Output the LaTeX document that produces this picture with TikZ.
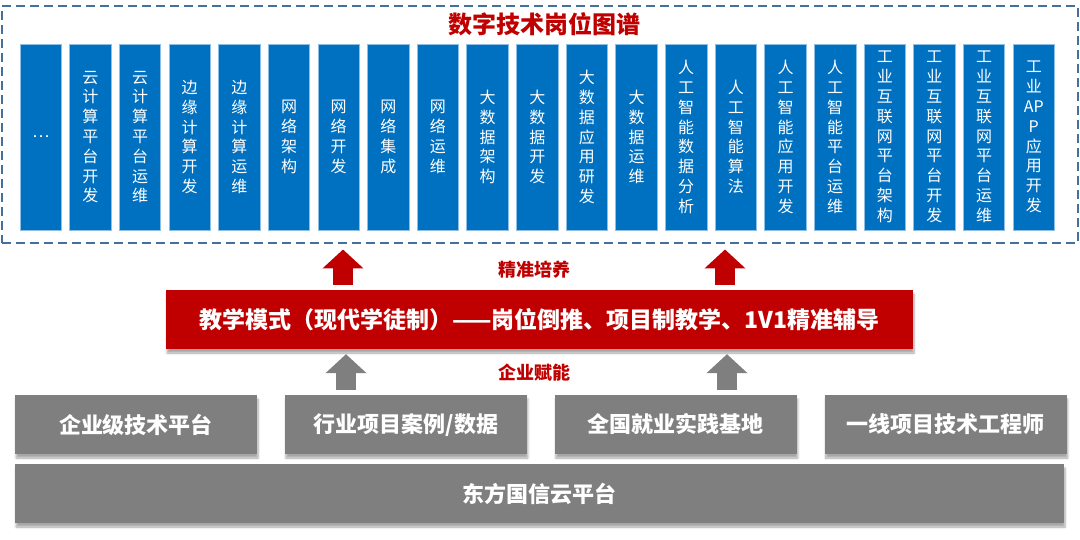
\documentclass[tikz,border=0pt]{standalone}
\usepackage{fontspec}
\setmainfont{Noto Sans CJK SC}
\usetikzlibrary{positioning, shadows.blur, arrows.meta}
\definecolor{jobblue}{HTML}{0070C0}
\definecolor{deepred}{HTML}{C00000}
\definecolor{platgray}{HTML}{7F7F7F}
\definecolor{framebl}{HTML}{41719C}

\begin{document}
\begin{tikzpicture}[
  x=1pt, y=-1pt,
  jobcol/.style={
    draw=white!55!jobblue, line width=0.8pt, fill=jobblue, text=white,
    minimum width=41.5pt, minimum height=186pt, inner sep=0pt,
    align=center, font=\fontsize{16pt}{19.8pt}\selectfont
  },
  softshadow/.style={
    blur shadow={shadow xshift=1pt, shadow yshift=-4pt,
                 shadow blur steps=6, shadow opacity=35}
  },
  platform/.style={
    fill=platgray, text=white, softshadow,
    minimum width=242pt, minimum height=59pt, inner sep=0pt,
    font=\fontsize{22pt}{26pt}\selectfont\bfseries
  },
  upshaft/.style={
    draw=#1, line width=20pt, -{Triangle[width=40pt, length=19pt]},
    shorten >=5pt, shorten <=5pt
  },
  redlabel/.style={
    text=deepred, font=\fontsize{18pt}{22pt}\selectfont\bfseries
  }
]
\useasboundingbox (0,0) rectangle (1080,540);

% job map
\node[draw=framebl, line width=2pt, dash pattern=on 9pt off 5pt,
      minimum width=1076pt, minimum height=237pt, inner sep=0pt]
      (frame) at (539.5,125) {};
\node[text=deepred, font=\fontsize{24pt}{28pt}\selectfont\bfseries]
      (title) at (544,24) {数字技术岗位图谱};

\foreach \lbl [count=\i from 0] in {
  {…},
  {云\\计\\算\\平\\台\\开\\发},
  {云\\计\\算\\平\\台\\运\\维},
  {边\\缘\\计\\算\\开\\发},
  {边\\缘\\计\\算\\运\\维},
  {网\\络\\架\\构},
  {网\\络\\开\\发},
  {网\\络\\集\\成},
  {网\\络\\运\\维},
  {大\\数\\据\\架\\构},
  {大\\数\\据\\开\\发},
  {大\\数\\据\\应\\用\\研\\发},
  {大\\数\\据\\运\\维},
  {人\\工\\智\\能\\数\\据\\分\\析},
  {人\\工\\智\\能\\算\\法},
  {人\\工\\智\\能\\应\\用\\开\\发},
  {人\\工\\智\\能\\平\\台\\运\\维},
  {工\\业\\互\\联\\网\\平\\台\\架\\构},
  {工\\业\\互\\联\\网\\平\\台\\开\\发},
  {工\\业\\互\\联\\网\\平\\台\\运\\维},
  {工\\业\\AP\\P\\应\\用\\开\\发}}
  \node[jobcol] (job\i) at (40.75+\i*49.65,137) {\lbl};

% teaching mode
\node[fill=deepred, text=white, softshadow,
      minimum width=747pt, minimum height=59pt, inner sep=0pt,
      font=\fontsize{23pt}{27pt}\selectfont\bfseries]
      (mode) at (539.5,319.5)
      {教学模式（现代学徒制）——岗位倒推、项目制教学、1V1精准辅导};

% enterprise platforms
\node[platform] (ent) at (136,424.5) {企业级技术平台};
\node[platform, right=27.5pt of ent] (case) {行业项目案例/数据};
\node[platform, right=27.5pt of case] (base) {全国就业实践基地};
\node[platform, right=27.5pt of base] (eng) {一线项目技术工程师};
\node[platform, minimum width=1049pt] (cloud) at (539.5,493.5) {东方国信云平台};

% arrows
\coordinate (r1) at (343,0);
\coordinate (r2) at (725,0);
\coordinate (g1) at (346,0);
\coordinate (g2) at (727,0);
\draw[upshaft=deepred] (mode.north -| r1) -- (frame.south -| r1);
\draw[upshaft=deepred] (mode.north -| r2) -- (frame.south -| r2);
\draw[upshaft=platgray] (case.north -| g1) -- (mode.south -| g1);
\draw[upshaft=platgray] (base.north -| g2) -- (mode.south -| g2);

\node[redlabel] (train) at (534,270) {精准培养};
\node[redlabel] (empower) at (534,373) {企业赋能};

\end{tikzpicture}
\end{document}
